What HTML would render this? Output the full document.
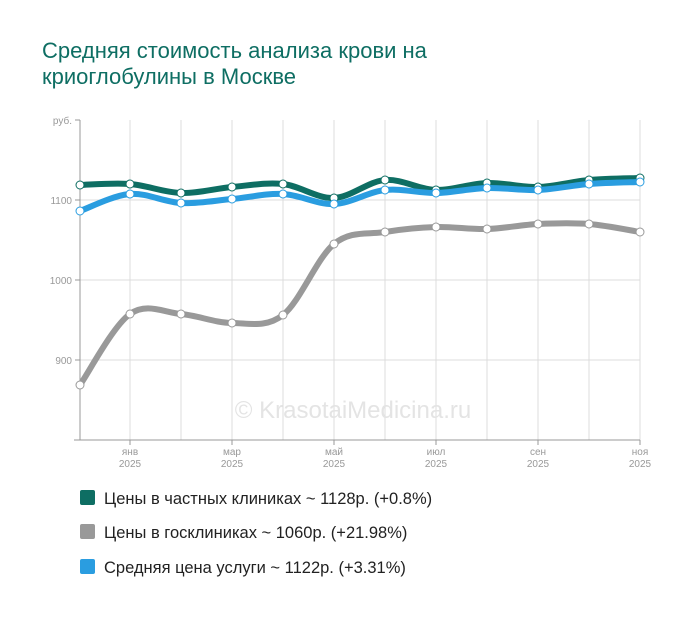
<!DOCTYPE html>
<html><head><meta charset="utf-8"><style>
body{margin:0;background:#fff;width:700px;height:617px;overflow:hidden;font-family:"Liberation Sans",sans-serif}
h1{position:absolute;left:42px;top:38px;margin:0;font-weight:normal;font-size:22px;line-height:26px;color:#0e6e63}
.lg{position:absolute;left:80px;font-size:16.5px;color:#222;white-space:nowrap}
.lg i{display:inline-block;width:15px;height:15px;border-radius:2px;vertical-align:-1px;margin-right:9px}
</style></head><body>
<h1>Средняя стоимость анализа крови на<br>криоглобулины в Москве</h1>
<svg width="700" height="617" style="position:absolute;left:0;top:0">
<g stroke="#dcdcdc" stroke-width="1">
<line x1="80" y1="200" x2="640" y2="200"/><line x1="80" y1="280" x2="640" y2="280"/><line x1="80" y1="360" x2="640" y2="360"/>
<line x1="130" y1="120" x2="130" y2="440"/><line x1="181" y1="120" x2="181" y2="440"/><line x1="232" y1="120" x2="232" y2="440"/><line x1="283" y1="120" x2="283" y2="440"/><line x1="334" y1="120" x2="334" y2="440"/><line x1="385" y1="120" x2="385" y2="440"/><line x1="436" y1="120" x2="436" y2="440"/><line x1="487" y1="120" x2="487" y2="440"/><line x1="538" y1="120" x2="538" y2="440"/><line x1="589" y1="120" x2="589" y2="440"/><line x1="640" y1="120" x2="640" y2="440"/>
</g>
<g stroke="#999" stroke-width="1">
<line x1="80" y1="120" x2="80" y2="440"/><line x1="74" y1="440" x2="640" y2="440"/>
<line x1="75" y1="120" x2="80" y2="120"/><line x1="75" y1="200" x2="80" y2="200"/><line x1="75" y1="280" x2="80" y2="280"/><line x1="75" y1="360" x2="80" y2="360"/>
<line x1="130" y1="440" x2="130" y2="445"/><line x1="232" y1="440" x2="232" y2="445"/><line x1="334" y1="440" x2="334" y2="445"/><line x1="436" y1="440" x2="436" y2="445"/><line x1="538" y1="440" x2="538" y2="445"/><line x1="640" y1="440" x2="640" y2="445"/>
</g>
<g font-size="10" fill="#999" text-anchor="end">
<text x="72" y="124">руб.</text><text x="72" y="204">1100</text><text x="72" y="284">1000</text><text x="72" y="364">900</text>
</g>
<g font-size="10" fill="#999" text-anchor="middle">
<text x="130" y="455">янв</text><text x="130" y="467">2025</text>
<text x="232" y="455">мар</text><text x="232" y="467">2025</text>
<text x="334" y="455">май</text><text x="334" y="467">2025</text>
<text x="436" y="455">июл</text><text x="436" y="467">2025</text>
<text x="538" y="455">сен</text><text x="538" y="467">2025</text>
<text x="640" y="455">ноя</text><text x="640" y="467">2025</text>
</g>
<text x="353" y="418" font-size="24" fill="#e4e4e4" text-anchor="middle">© KrasotaiMedicina.ru</text>
<g id="c" fill="none" stroke-width="6" stroke-linecap="round"></g>
</svg>
<div class="lg" style="top:490px"><i style="background:#0e6e63"></i>Цены в частных клиниках ~ 1128р. (+0.8%)</div>
<div class="lg" style="top:524px"><i style="background:#999"></i>Цены в госклиниках ~ 1060р. (+21.98%)</div>
<div class="lg" style="top:559px"><i style="background:#2a9de0"></i>Средняя цена услуги ~ 1122р. (+3.31%)</div>
<script>
var xs=[80,130,181,232,283,334,385,436,487,538,589,640];
var S=[
["#999",[385,314,314,323,315,244,232,227,229,224,224,232]],
["#0e6e63",[185,184,193,187,184,198,180,190,183,187,180,178]],
["#2a9de0",[211,194,203,199,194,204,190,193,188,190,184,182]]];
var g=document.getElementById('c'),ns="http://www.w3.org/2000/svg";
S.forEach(function(s){var y=s[1],d="M"+xs[0]+","+y[0];
for(var i=0;i<11;i++){var p0=i?i-1:0,p3=i<10?i+2:11;
var c1x=xs[i]+(xs[i+1]-xs[p0])/6,c1y=y[i]+(y[i+1]-y[p0])/6,c2x=xs[i+1]-(xs[p3]-xs[i])/6,c2y=y[i+1]-(y[p3]-y[i])/6;
d+=" C"+c1x+","+c1y+" "+c2x+","+c2y+" "+xs[i+1]+","+y[i+1];}
var p=document.createElementNS(ns,"path");p.setAttribute("d",d);p.setAttribute("stroke",s[0]);g.appendChild(p);
xs.forEach(function(x,i){var c=document.createElementNS(ns,"circle");c.setAttribute("cx",x);c.setAttribute("cy",y[i]);c.setAttribute("r",4);c.setAttribute("fill","#fff");c.setAttribute("stroke",s[0]);c.setAttribute("stroke-width",1);g.appendChild(c);});});
</script>
</body></html>
